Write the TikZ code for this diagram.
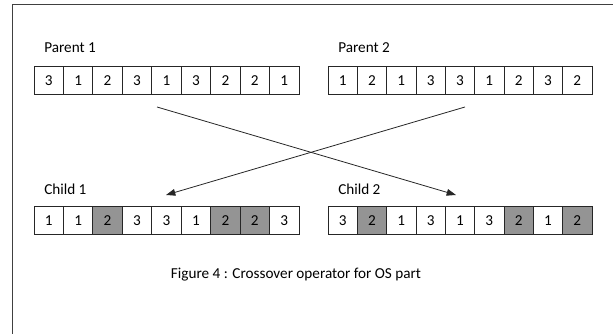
\documentclass[tikz,border=0pt]{standalone}
\usepackage{fontspec}
\setmainfont{Carlito}
\usetikzlibrary{arrows.meta, positioning}
\colorlet{shade}{black!42}
\tikzset{
  cell/.style={draw=black!85, line width=0.6pt, inner sep=0pt,
               minimum width=22.08pt, minimum height=21.4pt,
               font=\fontsize{11.4}{13}\selectfont},
  lbl/.style={anchor=west, inner sep=0pt, font=\fontsize{11.4}{13}\selectfont},
  arrow/.style={-{Triangle[length=7pt, width=5pt]}, line width=0.6pt, black!85}
}
\begin{document}
\begin{tikzpicture}[x=0.75pt, y=-0.75pt]
\useasboundingbox (0,0) rectangle (613,334);
% page frame
\draw[black!75, line width=0.75pt] (12,334) -- (12,5) -- (613,5);
% labels
\node[lbl] (lp1) at (44,48) {Parent 1};
\node[lbl] (lp2) at (338,48) {Parent 2};
\node[lbl] (lc1) at (44,189) {Child 1};
\node[lbl] (lc2) at (338,189) {Child 2};
% parents
\foreach \v [count=\i] in {3,1,2,3,1,3,2,2,1}
    \node[cell] (pa\i) at (34+29.44*\i-14.72, 80.5) {\v};
\foreach \v [count=\i] in {1,2,1,3,3,1,2,3,2}
    \node[cell] (pb\i) at (328+29.33*\i-14.67, 80.5) {\v};
% children
\foreach \v/\f [count=\i] in {1/white,1/white,2/shade,3/white,3/white,1/white,2/shade,2/shade,3/white}
    \node[cell, fill=\f] (ca\i) at (34+29.44*\i-14.72, 220.5) {\v};
\foreach \v/\f [count=\i] in {3/white,2/shade,1/white,3/white,1/white,3/white,2/shade,1/white,2/shade}
    \node[cell, fill=\f] (cb\i) at (328+29.33*\i-14.67, 220.5) {\v};
% crossover
\coordinate (s1) at (157,107);
\coordinate (t1) at (456,195);
\coordinate (s2) at (465,107);
\coordinate (t2) at (166,195);
\draw[arrow] (s1) -- (t1);
\draw[arrow] (s2) -- (t2);
% caption
\node[font=\fontsize{11.4}{13}\selectfont] (cap) at (296,275) {Figure 4 : Crossover operator for OS part};
\end{tikzpicture}
\end{document}
